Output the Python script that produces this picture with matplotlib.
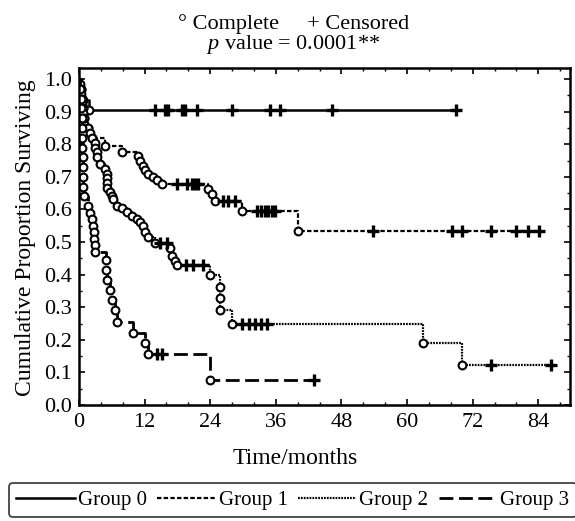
import numpy as np
import matplotlib
matplotlib.use("Agg")
import matplotlib.pyplot as plt
from matplotlib.ticker import MultipleLocator, FormatStrFormatter
from matplotlib.lines import Line2D

plt.rcParams['font.family'] = ['Liberation Serif', 'DejaVu Serif']
plt.rcParams['mathtext.fontset'] = 'custom'
plt.rcParams['mathtext.rm'] = 'Liberation Serif'
plt.rcParams['mathtext.it'] = 'Liberation Serif:italic'

# event times (months) / survival after each event / censored times
group0_t = [0.3, 0.7, 1.8]
group0_s = [0.968, 0.935, 0.905]
group0_c = [13.9, 15.8, 16.3, 18.9, 19.4, 21.6, 28.0, 35.0, 36.8, 46.2, 68.9]

group1_t = [0.3, 0.5, 0.7, 0.9, 1.6, 2.4, 4.8, 7.9, 10.8, 11.2, 11.7, 12.1, 12.6,
            13.6, 14.3, 15.2, 23.6, 24.4, 24.9, 29.9, 40.0]
group1_s = [0.97, 0.94, 0.91, 0.88, 0.85, 0.82, 0.796, 0.777, 0.765, 0.749, 0.734,
            0.721, 0.709, 0.700, 0.690, 0.678, 0.663, 0.647, 0.627, 0.594, 0.533]
group1_c = [17.9, 19.8, 20.7, 21.2, 21.8, 26.4, 27.3, 28.6, 32.6, 33.2, 34.1, 34.6,
            35.3, 35.9, 53.8, 68.3, 70.1, 75.3, 79.9, 82.1, 84.1]

group2_t = [0.2, 0.3, 0.4, 0.5, 0.6, 0.7, 0.8, 1.0, 1.6, 2.0, 2.4, 2.9, 2.9, 3.3, 3.3,
            3.8, 4.8, 5.1, 5.1, 5.1, 5.1, 5.7, 6.0, 6.2, 7.0, 7.9, 8.8, 9.7, 10.6, 11.2,
            11.7, 12.1, 12.6, 13.9, 16.7, 17.0, 17.6, 17.9, 24.0, 25.8, 25.8, 25.8,
            28.0, 63.0, 70.1]
group2_s = [0.985, 0.97, 0.955, 0.94, 0.925, 0.91, 0.895, 0.88, 0.85, 0.835, 0.82,
            0.805, 0.79, 0.775, 0.76, 0.74, 0.725, 0.71, 0.695, 0.68, 0.665, 0.655,
            0.641, 0.632, 0.61, 0.605, 0.591, 0.579, 0.57, 0.56, 0.548, 0.532, 0.517,
            0.498, 0.483, 0.458, 0.443, 0.43, 0.40, 0.362, 0.328, 0.291, 0.25, 0.189,
            0.124]
group2_c = [14.8, 16.1, 19.6, 20.9, 22.7, 29.9, 31.0, 32.2, 33.2, 34.4, 75.3, 86.3]

group3_t = [0.2, 0.3, 0.4, 0.5, 0.5, 0.6, 0.6, 0.7, 0.7, 0.8, 0.8, 1.0, 1.6, 2.0, 2.3,
            2.5, 2.7, 2.8, 2.9, 3.0, 4.9, 5.0, 5.1, 5.7, 6.0, 6.6, 7.0, 9.9, 12.1, 12.6,
            24.0]
group3_s = [0.97, 0.94, 0.91, 0.88, 0.85, 0.82, 0.79, 0.76, 0.73, 0.70, 0.67, 0.64,
            0.61, 0.59, 0.57, 0.548, 0.53, 0.51, 0.49, 0.47, 0.446, 0.415, 0.384,
            0.353, 0.322, 0.291, 0.254, 0.222, 0.189, 0.158, 0.077]
group3_c = [14.3, 15.2, 42.9]

labels = ['Group 0', 'Group 1', 'Group 2', 'Group 3']
styles = [dict(lw=1.8, ls='-'),
          dict(lw=1.6, ls=(0, (2, 1))),
          dict(lw=1.6, ls=(0, (0.8, 0.5))),
          dict(lw=2.0, ls=(0, (5, 2)))]


def km_curve(ax, t, s, c, style):
    end = max(t[-1], max(c))
    xs = np.r_[0, t, end]
    ys = np.r_[1, s, s[-1]]
    ax.plot(xs, ys, drawstyle='steps-post', color='k', **style)
    ax.plot(t, s, 'o', ms=5.6, mfc='white', mec='k', mew=1.5, ls='none')
    idx = np.searchsorted(xs, c, side='right') - 1
    ax.plot(c, ys[idx], '+', ms=8, mew=2.4, color='k', ls='none')


fig = plt.figure(figsize=(5.75, 5.21), dpi=100)
ax = fig.add_axes([0.1374, 0.2226, 0.8539, 0.6469])

groups = [(group0_t, group0_s, group0_c), (group1_t, group1_s, group1_c),
          (group2_t, group2_s, group2_c), (group3_t, group3_s, group3_c)]
for (t, s, c), st in zip(groups, styles):
    km_curve(ax, t, s, c, st)

ax.set_xlim(0, 89.8)
ax.set_ylim(0, 1.034)
ax.xaxis.set_major_locator(MultipleLocator(12))
ax.xaxis.set_minor_locator(MultipleLocator(4))
ax.yaxis.set_major_locator(MultipleLocator(0.1))
ax.yaxis.set_minor_locator(MultipleLocator(0.05))
ax.yaxis.set_major_formatter(FormatStrFormatter('%.1f'))
ax.tick_params(which='both', direction='in', top=True, right=True, labelsize=16)
ax.tick_params(which='major', length=4, width=1.2, pad=5)
ax.tick_params(axis='x', which='major', pad=6)
ax.tick_params(which='minor', length=2.5, width=1.0)
for sp in ax.spines.values():
    sp.set_linewidth(1.8)

fig.text(0.51, 1 - 24 / 521, '\u00b0 Complete     + Censored', ha='center', va='center', fontsize=16)
fig.text(0.51, 1 - 44 / 521, r'$p$ value = 0.0001**', ha='center', va='center', fontsize=16)
fig.text(0.513, 1 - 459 / 521, 'Time/months', ha='center', va='center', fontsize=17)
fig.text(0.045, 1 - 238 / 521, 'Cumulative Proportion Surviving', rotation=90,
         ha='center', va='center', fontsize=17)

handles = [Line2D([], [], color='k', **st) for st in styles]
leg = fig.legend(handles, labels, loc='center left', bbox_to_anchor=(9 / 575, 1 - 500 / 521),
                 ncol=4, fontsize=15, handlelength=2.8, handletextpad=0.15,
                 columnspacing=0.5, borderaxespad=0, borderpad=0.35, fancybox=True,
                 frameon=True)
leg.get_frame().set_edgecolor('k')
leg.get_frame().set_linewidth(1.2)

fig.savefig('out.png', dpi=100)
